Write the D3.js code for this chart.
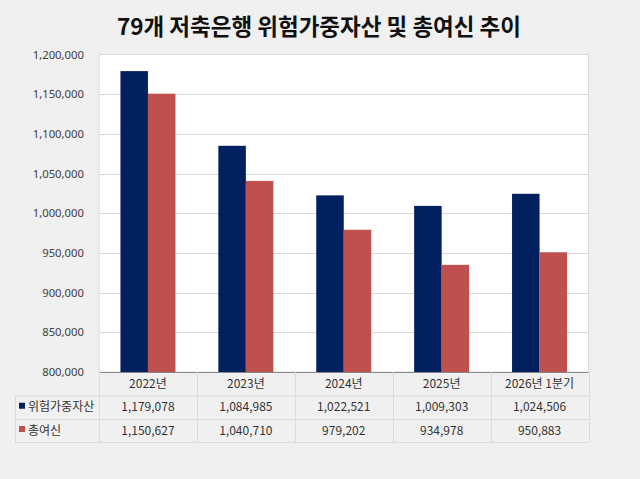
<!DOCTYPE html>
<html><head><meta charset="utf-8">
<script src="https://cdn.jsdelivr.net/npm/d3@7"></script>
<style>
html,body{margin:0;padding:0;background:#f0f0f0;}
svg{display:block;}
text{font-family:"Noto Sans CJK KR","Noto Sans",sans-serif;}
</style></head>
<body>
<script>
const title = "79개 저축은행 위험가중자산 및 총여신 추이";
const categories = ["2022년","2023년","2024년","2025년","2026년 1분기"];
const seriesNames = ["위험가중자산","총여신"];
const riskAssets = [1179078,1084985,1022521,1009303,1024506];
const totalLoans = [1150627,1040710,979202,934978,950883];
const yTicks = [800000,850000,900000,950000,1000000,1050000,1100000,1150000,1200000];
const colors = ["#002060","#C0504D"];

const W=640,H=479;
const plot={left:99,right:588.5,top:54.5,bottom:372};
const svg=d3.select("body").append("svg").attr("width",W).attr("height",H);
svg.append("rect").attr("width",W).attr("height",H).attr("fill","#f0f0f0");

svg.append("text").attr("x",319).attr("y",35).attr("text-anchor","middle")
  .attr("font-size",22.5).attr("font-weight","bold").attr("fill","#111").text(title);

const x=d3.scaleBand().domain(categories).range([plot.left,plot.right]);
const x1=d3.scaleBand().domain(seriesNames).range([0,x.bandwidth()]).paddingOuter(0.78).paddingInner(0);
const y=d3.scaleLinear().domain([800000,1200000]).range([plot.bottom,plot.top]);

// plot area
svg.append("rect").attr("x",plot.left).attr("y",plot.top).attr("width",plot.right-plot.left)
  .attr("height",plot.bottom-plot.top).attr("fill","#fff").attr("stroke","#dadada").attr("stroke-width",1);

// gridlines
svg.append("g").selectAll("line").data(yTicks.slice(1,-1)).join("line")
  .attr("x1",plot.left).attr("x2",plot.right)
  .attr("y1",d=>Math.round(y(d))+0.5).attr("y2",d=>Math.round(y(d))+0.5)
  .attr("stroke","#d9d9d9").attr("stroke-width",1);

// y axis labels
const yAxis=d3.axisLeft(y).tickValues(yTicks).tickFormat(d3.format(",")).tickSize(0).tickPadding(0);
const ga=svg.append("g").attr("transform",`translate(${plot.left-15},0)`).call(yAxis);
ga.select(".domain").remove();
ga.selectAll("text").attr("font-size",11.3).attr("fill","#404040")
  .style("font-family","'Noto Sans','Noto Sans CJK KR',sans-serif");

// bars
const data=[riskAssets,totalLoans];
data.forEach((vals,si)=>{
  svg.append("g").selectAll("rect").data(vals).join("rect")
    .attr("x",(d,i)=>x(categories[i])+x1(seriesNames[si]))
    .attr("width",x1.bandwidth())
    .attr("y",d=>y(d)).attr("height",d=>plot.bottom-y(d))
    .attr("fill",colors[si]);
});

// axis line
svg.append("line").attr("x1",plot.left).attr("x2",plot.right).attr("y1",plot.bottom+0.5).attr("y2",plot.bottom+0.5)
  .attr("stroke","#888").attr("stroke-width",1);

// data table
const rowY=[372,395.5,419,442];
const tableLeft=15;
const grid=svg.append("g").attr("stroke","#dcdcdc").attr("stroke-width",1);
grid.append("line").attr("x1",tableLeft).attr("x2",plot.right).attr("y1",rowY[1]+0.5).attr("y2",rowY[1]+0.5);
grid.append("line").attr("x1",tableLeft).attr("x2",plot.right).attr("y1",rowY[2]+0.5).attr("y2",rowY[2]+0.5);
grid.append("line").attr("x1",tableLeft).attr("x2",plot.right).attr("y1",rowY[3]+0.5).attr("y2",rowY[3]+0.5);
const vx=categories.map(c=>x(c)).concat([plot.right]);
vx.forEach(v=>{
  grid.append("line").attr("x1",Math.round(v)+0.5).attr("x2",Math.round(v)+0.5).attr("y1",rowY[0]).attr("y2",rowY[3]);
});
grid.append("line").attr("x1",tableLeft+0.5).attr("x2",tableLeft+0.5).attr("y1",rowY[1]).attr("y2",rowY[3]);

// header labels
svg.append("g").selectAll("text").data(categories).join("text")
  .attr("x",d=>x(d)+x.bandwidth()/2).attr("y",(rowY[0]+rowY[1])/2+4.2)
  .attr("text-anchor","middle").attr("font-size",12).attr("fill","#333").text(d=>d);

const fmt=d3.format(",");
data.forEach((vals,si)=>{
  const cy=(rowY[si+1]+rowY[si+2])/2;
  svg.append("rect").attr("x",19).attr("y",cy-4.5).attr("width",6).attr("height",6).attr("fill",colors[si]);
  svg.append("text").attr("x",28).attr("y",cy+4.2).attr("font-size",12).attr("fill","#333").text(seriesNames[si]);
  svg.append("g").selectAll("text").data(vals).join("text")
    .attr("x",(d,i)=>x(categories[i])+x.bandwidth()/2).attr("y",cy+4.2)
    .attr("text-anchor","middle").attr("font-size",12).attr("fill","#333").text(d=>fmt(d));
});
</script>
</body></html>
